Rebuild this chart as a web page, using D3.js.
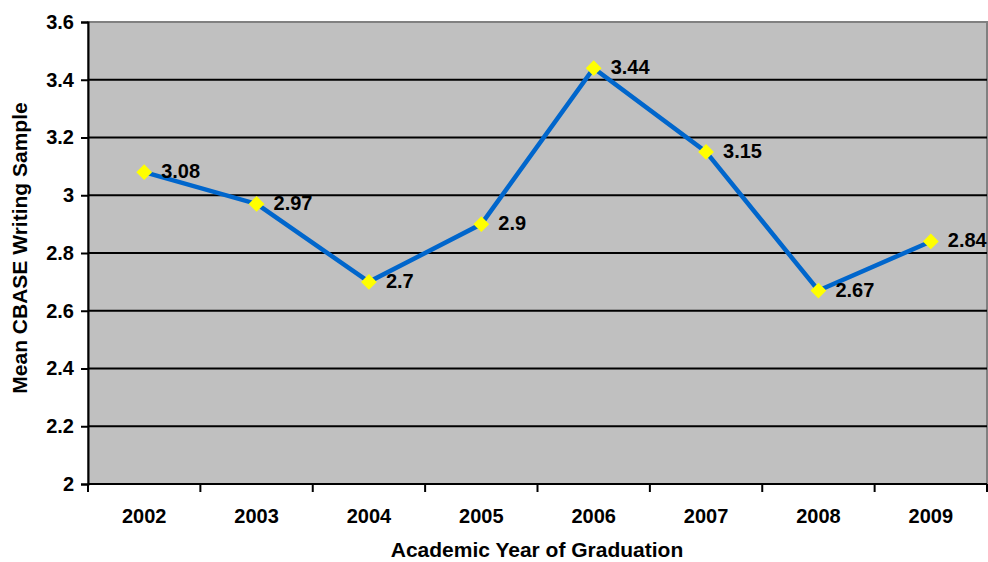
<!DOCTYPE html>
<html>
<head>
<meta charset="utf-8">
<script src="https://cdn.jsdelivr.net/npm/d3@7"></script>
<style>
  body { margin: 0; background: #fff; }
  text { font-family: "Liberation Sans", Arial, sans-serif; font-weight: bold; fill: #000; }
</style>
</head>
<body>
<div id="chart"></div>
<script>
var years = ["2002", "2003", "2004", "2005", "2006", "2007", "2008", "2009"]
var means = [3.08, 2.97, 2.7, 2.9, 3.44, 3.15, 2.67, 2.84]
var yTicks = [2, 2.2, 2.4, 2.6, 2.8, 3, 3.2, 3.4, 3.6]

var width = 988, height = 562
var margin = {top: 22, right: 1, bottom: 78, left: 88}
var plotW = width - margin.left - margin.right,
	plotH = height - margin.top - margin.bottom

var svg = d3.select("#chart").append("svg")
	.attr("width", width)
	.attr("height", height)

var g = svg.append("g")
	.attr("transform", "translate(" + margin.left + "," + margin.top + ")")

var x = d3.scaleBand().domain(years).range([0, plotW])
var y = d3.scaleLinear().domain([2, 3.6]).range([plotH, 0])

// plot background
g.append("rect")
	.attr("width", plotW)
	.attr("height", plotH)
	.style("fill", "#c0c0c0")
	.style("stroke", "#808080")
	.style("stroke-width", 2)

// gridlines
g.selectAll(".grid")
	.data(yTicks.slice(1, -1))
	.enter().append("line")
	.attr("x1", 0).attr("x2", plotW)
	.attr("y1", function(d) { return y(d) })
	.attr("y2", function(d) { return y(d) })
	.style("stroke", "#000")
	.style("stroke-width", 2)

// y axis
var yAxis = g.append("g")
	.call(d3.axisLeft(y).tickValues(yTicks).tickFormat(d3.format("")).tickSize(7).tickPadding(7))
yAxis.select(".domain").style("stroke-width", 2)
yAxis.selectAll(".tick line").style("stroke-width", 2)
yAxis.selectAll("text").style("font-size", "20px")

// x axis (ticks at band edges)
var xAxis = g.append("g")
	.attr("transform", "translate(0," + plotH + ")")
xAxis.append("line")
	.attr("x1", 0).attr("x2", plotW)
	.style("stroke", "#000").style("stroke-width", 2)
xAxis.selectAll(".xt")
	.data(years.concat(["end"]))
	.enter().append("line")
	.attr("x1", function(d, i) { return i * x.step() })
	.attr("x2", function(d, i) { return i * x.step() })
	.attr("y1", 0).attr("y2", 8)
	.style("stroke", "#000").style("stroke-width", 2)
xAxis.selectAll(".xl")
	.data(years)
	.enter().append("text")
	.attr("x", function(d) { return x(d) + x.bandwidth() / 2 })
	.attr("y", 39)
	.style("text-anchor", "middle")
	.style("font-size", "20px")
	.text(function(d) { return d })

// line
var line = d3.line()
	.x(function(d, i) { return x(years[i]) + x.bandwidth() / 2 })
	.y(function(d) { return y(d) })

g.append("path")
	.datum(means)
	.attr("d", line)
	.style("fill", "none")
	.style("stroke", "#0066cc")
	.style("stroke-width", 4.5)

var pts = g.selectAll(".pt")
	.data(means)
	.enter().append("g")
	.attr("transform", function(d, i) {
		return "translate(" + (x(years[i]) + x.bandwidth() / 2) + "," + y(d) + ")"
	})

pts.append("path")
	.attr("d", d3.symbol().type(d3.symbolSquare).size(125))
	.attr("transform", "rotate(45)")
	.style("fill", "#ffff00")

pts.append("text")
	.attr("x", 17)
	.attr("y", 6)
	.style("font-size", "20px")
	.text(function(d) { return d })

// axis titles
svg.append("text")
	.attr("x", 537)
	.attr("y", 557)
	.style("text-anchor", "middle")
	.style("font-size", "21px")
	.text("Academic Year of Graduation")

svg.append("text")
	.attr("transform", "translate(27,248) rotate(-90)")
	.style("text-anchor", "middle")
	.style("font-size", "21px")
	.text("Mean CBASE Writing Sample")
</script>
</body>
</html>
